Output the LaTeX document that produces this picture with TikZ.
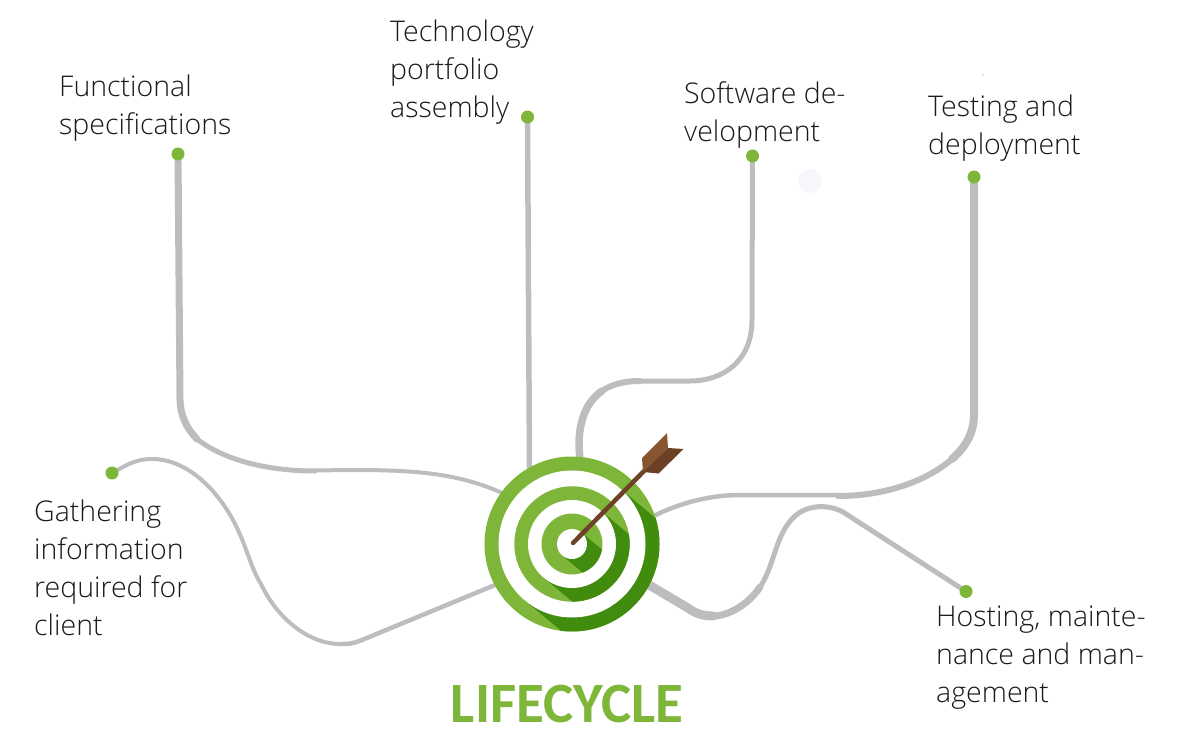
\documentclass[tikz,border=0pt]{standalone}
\usepackage{fontspec}
\setmainfont{Open Sans Light}[BoldFont={Open Sans}]
\newfontfamily\titlefont{Carlito}
\usetikzlibrary{backgrounds}
\definecolor{tgreen}{HTML}{7DB639}
\definecolor{tdark}{HTML}{418C0E}
\definecolor{wire}{HTML}{BDBDC0}
\definecolor{ink}{HTML}{1A1A1A}
\definecolor{shaft}{HTML}{6E4226}
\definecolor{featherA}{HTML}{87552F}
\definecolor{featherB}{HTML}{6B4024}
\definecolor{faintmark}{HTML}{F7F6FA}
\tikzset{
  lbl/.style={anchor=north west,inner sep=0pt,align=left,text=ink,font=\fontsize{28.5bp}{38bp}\selectfont},
  pin/.style={circle,fill=tgreen,inner sep=0pt,minimum size=13bp},
  wirepath/.style={draw=wire,line cap=round,line join=round,line width=#1},
  hubshape/.style={circle,inner sep=0pt,minimum size=175bp,fill=tgreen},
}
\newcommand{\ringshadow}[1]{%
  \fill[tdark,rotate around={-40:(572,544)}] (572,{544-#1}) rectangle (772,{544+#1});}
\begin{document}
\begin{tikzpicture}[x=1bp,y=-1bp]
\useasboundingbox (0,0) rectangle (1199,755);
% hub
\node[hubshape] (hub) at (572,544) {};
\begin{scope}
  \clip (572,544) circle (87.5);
  \ringshadow{73.5}
\end{scope}
\fill[white] (572,544) circle (73.5);
\fill[tgreen] (572,544) circle (57.7);
\begin{scope}
  \clip (572,544) circle (57.7);
  \ringshadow{44}
\end{scope}
\fill[white] (572,544) circle (44);
\fill[tgreen] (572,544) circle (30.5);
\begin{scope}
  \clip (572,544) circle (30.5);
  \ringshadow{15}
\end{scope}
\fill[white] (572,544) circle (15);
% arrow
\coordinate (tip) at (573,543);
\coordinate (nock) at (645,470);
\draw[shaft,line width=4.5bp,line cap=round] (tip) -- (nock);
\fill[featherA] (642,458) -- (667,433) -- (668,448) -- (643,472) -- cycle;
\fill[featherB] (668,448) -- (683.5,449) -- (658.5,473.5) -- (643,472) -- cycle;
% pins
\node[pin] (p1) at (178,154) {};
\node[pin] (p2) at (527.5,117) {};
\node[pin] (p3) at (752.5,156) {};
\node[pin] (p4) at (974,177) {};
\node[pin] (p5) at (966,591.5) {};
\node[pin] (p6) at (112,473) {};
% connectors
\begin{scope}[on background layer]
  \draw[wirepath=7bp] (p1) -- (180,400) .. controls (180.5,415) and (186,428) .. (197,439);
  \draw[wirepath=5bp] (197,439) .. controls (225,461) and (270,471) .. (315,471);
  \draw[wirepath=4bp] (315,470.5) .. controls (400,469) and (450,470) .. (hub.144);
  \draw[wirepath=5.5bp] (p2) -- (hub.119);
  \draw[wirepath=5bp] (p3) -- (752,320) .. controls (752,362) and (722,381) .. (690,381) -- (640,381);
  \draw[wirepath=6bp] (640,381) .. controls (625,381) and (612,384) .. (602,391);
  \draw[wirepath=7.5bp] (602,391) .. controls (587,401) and (579,420) .. (579,445) -- (hub.85);
  \draw[wirepath=8bp] (p4) -- (974,415) .. controls (974,432) and (966,447) .. (952,459);
  \draw[wirepath=6bp] (952,459) .. controls (927,481) and (885,496) .. (838,496);
  \draw[wirepath=4.5bp] (838,495) -- (740,495) .. controls (710,495) and (680,503) .. (hub.19);
  \draw[wirepath=5bp] (p5) -- (843,512) .. controls (826,503) and (806,506) .. (795,516) .. controls (775,534) and (775,565) .. (760,587);
  \draw[wirepath=7bp] (760,587) .. controls (748,605) and (728,616) .. (713,616);
  \draw[wirepath=9bp] (713,616) .. controls (702,616) and (695,613) .. (688,608) -- (hub.-28);
  \draw[wirepath=4bp] (p6) .. controls (125,466) and (135,459) .. (152,459) .. controls (190,459) and (222,495) .. (238,530) .. controls (248,552) and (252,570) .. (261,584) .. controls (278,620) and (310,644) .. (340,644);
  \draw[wirepath=4.5bp] (340,644) .. controls (348,644) and (352,644) .. (362,640) -- (hub.208);
\end{scope}
% labels
\node[lbl] (t1) at (59,74.5) {Functional\\specifications};
\node[lbl] (t2) at (390,19.5) {Technology\\portfolio\\assembly};
\node[lbl] (t3) at (684,81.5) {Software de-\\velopment};
\node[lbl] (t4) at (928,94.5) {Testing and\\deployment};
\node[lbl] (t5) at (936,605.5) {Hosting, mainte-\\nance and man-\\agement};
\node[lbl] (t6) at (34,499.5) {Gathering\\information\\required for\\client};
\node[anchor=base,inner sep=0pt,text=tgreen,font=\titlefont\bfseries\fontsize{57bp}{57bp}\selectfont] (title) at (567,722) {LIFECYCLE};
% faint marks
\fill[faintmark] (810,181) circle (12);
\fill[black!50] (983,75) circle (0.7);
\end{tikzpicture}
\end{document}
